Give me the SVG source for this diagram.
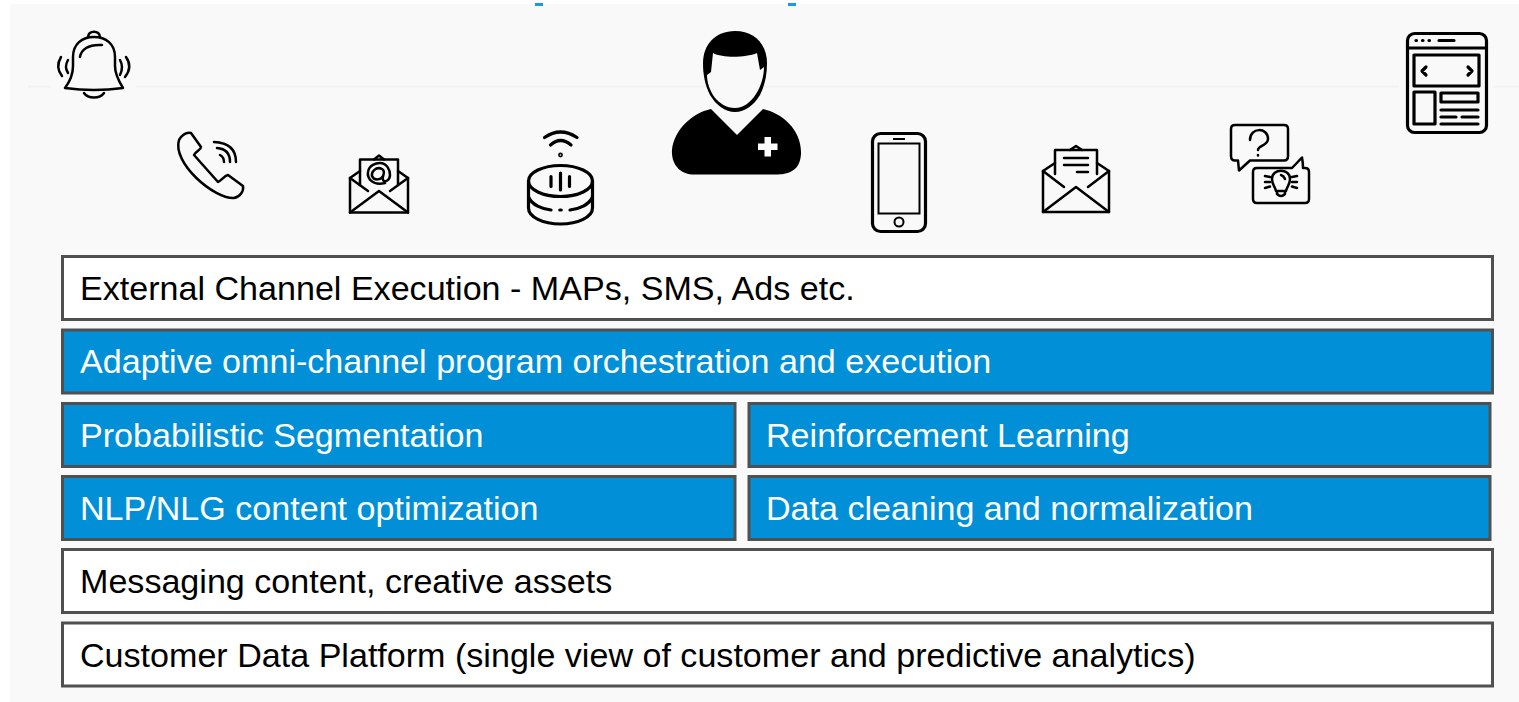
<svg xmlns="http://www.w3.org/2000/svg" width="1519" height="702" viewBox="0 0 1519 702">
<style>
.box{stroke:#505050;stroke-width:3}
.w{fill:#fff}
.b{fill:#0190d8}
text{font-family:"Liberation Sans",Arial,sans-serif;font-size:34.1px}
.tw{fill:#fff}
.tk{fill:#000}
.i{fill:none;stroke:#000;stroke-width:2.500;stroke-linecap:round;stroke-linejoin:round}
.i3{fill:none;stroke:#000;stroke-width:3.200;stroke-linecap:round;stroke-linejoin:round}
</style>
<rect width="1519" height="702" fill="#fff"/>
<rect x="10" y="4" width="1509" height="698" fill="#f9f9fa"/>
<rect x="535" y="3" width="8" height="3" fill="#1a9be0"/>
<rect x="788" y="3" width="8" height="3" fill="#1a9be0"/>
<path d="M28 86.500H50M136 86.500H1399M1494 86.500H1519" stroke="#f3f3f5" stroke-width="2.500" fill="none"/>

<g id="icon-bell" class="i">
<path d="M65 88C71 80 73 74 73 66V57C73 44 82 37 94 37C106 37 115 44 115 57V66C115 74 118 80 123 88Q94 92 65 88Z"/>
<path d="M88 37C89 30 99 30 100 37"/>
<path d="M84 93C88 99 100 99 104 93"/>
<path d="M80 57C81 50 88 44 102 45"/>
<path d="M68 60Q64 67 68 73M61 57Q55 67 62 76"/>
<path d="M120 60Q124 67 120 75M126 57Q133 67 125 77"/>
</g>
<g id="icon-phone" class="i">
<path d="M179 140C182 135 186 132 191 133L201 147C201 150 196 151 194 155L218 182C222 180 224 176 228 175L243 186C244 191 240 197 234 198C214 199 172 163 179 140Z"/>
<path d="M220 155Q224 157 224 162M217 148Q230 149 230 162M214 142Q236 143 236 162"/>
</g>
<g id="icon-mail-at" class="i">
<path d="M350 178V212.500H408V178"/>
<path d="M350 212.500L379 191L408 212.500"/>
<path d="M350 178L368 191M408 178L390 191"/>
<path d="M350 178L360 171M408 178L398 171"/>
<path d="M360 185V159.500H398V185"/>
<path d="M374 159.500L379 155.500L384 159.500"/>
<path d="M385 183C372 186 367 178 368 172C369 165 376 163 380 163C387 163 390 170 390 175C390 180 385 183 383 180C381 177 387 172 382 169C376 166 371 172 372 176C374 181 381 180 383 176"/>
</g>
<g id="icon-speaker" class="i3">
<ellipse cx="560.500" cy="181" rx="32" ry="15.500"/>
<path d="M528.500 181V208C528.500 217 543 224 560.500 224C578 224 592.500 217 592.500 208V181"/>
<path d="M528.500 197C532 205 542 209 551 210M570 210C579 209 589 205 592.500 197"/>
<path d="M560.500 173V190M551 176.500V186.500M569.500 176.500V186.500"/>
<path d="M559.800 210H561.200"/>
<path d="M544.500 137.500Q560.500 126.500 577 137.500M550.500 145Q560.500 136 571 145"/>
<circle cx="560.500" cy="155" r=".8"/>
</g>
<g id="icon-person">
<path fill="#000" d="M735 31C715 31 703 45 703 63C703 75 705 85 710 95C716 105 725 112 735 112C745 112 754 105 760 95C765 85 767 75 767 63C767 45 755 31 735 31Z"/>
<path fill="#f9f9fa" d="M707 75L711 72L713 53C722 58 745 58 757 53L760 70L764 67C764 85 752 108 735 108C718 108 707 90 707 75Z"/>
<path fill="#000" d="M711 109L737 135L763 109C782 113 802 130 801 154C800 170 790 174 778 174.500H695C682 175 671 166 672 150C674 130 692 113 711 109Z"/>
<path fill="#fff" d="M764.500 137H771V143.500H777.500V150H771V156.500H764.500V150H758V143.500H764.500Z"/>
</g>
<g id="icon-smartphone">
<rect x="872.500" y="133.500" width="53" height="98" rx="8" class="i3"/>
<rect x="878.500" y="143.500" width="41" height="70" fill="none" stroke="#000" stroke-width="2"/>
<path d="M893 139H905" stroke="#000" stroke-width="2"/>
<circle cx="899" cy="222" r="4.500" fill="none" stroke="#000" stroke-width="2"/>
</g>
<g id="icon-mail-letter" class="i">
<path d="M1043 171V212H1109V171"/>
<path d="M1043 212L1076 187L1109 212"/>
<path d="M1043 171L1064 187M1109 171L1088 187"/>
<path d="M1043 171L1055 163M1109 171L1097 163"/>
<path d="M1055 174V150H1097V174"/>
<path d="M1070 150L1076 146L1082 150"/>
<path d="M1064 158H1088M1064 165H1088M1077 172H1088"/>
</g>
<g id="icon-chat" class="i">
<path d="M1235 125H1284Q1288 125 1288 129V156Q1288 160.500 1284 160.500H1250L1239 170.500L1238 160.500H1235Q1231 160.500 1231 156V129Q1231 125 1235 125Z"/>
<path d="M1250 140C1250 127 1268 127 1268 139C1268 146 1258 145 1258 150"/>
<path d="M1258 155V155.500"/>
<path d="M1257 168H1292L1302 157.500Q1303 163 1303 168H1305Q1309 168 1309 172V199Q1309 203 1305 203H1257Q1253 203 1253 199V172Q1253 168 1257 168Z"/>
<path d="M1276 191C1275 186 1272 185 1272 179C1272 168 1290 168 1290 179C1290 185 1287 186 1286 191ZM1277 191V194Q1281 198 1285 194V191M1281 175Q1284 176 1285 179"/>
<path d="M1265 176L1270 177M1265 182H1270M1265 188L1270 186.500M1297 176L1292 177M1297 182H1292M1297 188L1292 186.500"/>
</g>
<g id="icon-browser" class="i3">
<rect x="1407.500" y="33.500" width="79" height="99" rx="7"/>
<path d="M1407.500 48H1486.500"/>
<path d="M1439 40.500H1454M1416 40.500H1416.500M1422.500 40.500H1423M1429 40.500H1429.500"/>
<rect x="1414" y="55" width="65" height="31"/>
<path d="M1426 67L1422 71L1426 75M1468 67L1472 71L1468 75"/>
<rect x="1414" y="92" width="21" height="32"/>
<rect x="1441" y="93" width="37" height="9"/>
<path d="M1441 110H1478M1441 117H1456M1462 117H1478M1441 124H1478"/>
</g>

<g id="row-external"><rect class="box w" x="62.500" y="256.500" width="1430" height="63"/><text class="tk" x="80" y="300">External Channel Execution - MAPs, SMS, Ads etc.</text></g>
<g id="row-adaptive"><rect class="box b" x="62.500" y="330" width="1430" height="63"/><text class="tw" x="80" y="373">Adaptive omni-channel program orchestration and execution</text></g>
<g id="row-probabilistic"><rect class="box b" x="62.500" y="403.500" width="672.500" height="63"/><text class="tw" x="80" y="447">Probabilistic Segmentation</text></g>
<g id="row-reinforcement"><rect class="box b" x="749" y="403.500" width="741" height="63"/><text class="tw" x="766" y="447">Reinforcement Learning</text></g>
<g id="row-nlp"><rect class="box b" x="62.500" y="476.500" width="672.500" height="63"/><text class="tw" x="80" y="520">NLP/NLG content optimization</text></g>
<g id="row-data"><rect class="box b" x="749" y="476.500" width="741" height="63"/><text class="tw" x="766" y="520">Data cleaning and normalization</text></g>
<g id="row-messaging"><rect class="box w" x="62.500" y="549.500" width="1430" height="63"/><text class="tk" x="80" y="593">Messaging content, creative assets</text></g>
<g id="row-cdp"><rect class="box w" x="62.500" y="623" width="1430" height="63"/><text class="tk" x="80" y="667">Customer Data Platform (single view of customer and predictive analytics)</text></g>
<g id="connectors"/>
</svg>
